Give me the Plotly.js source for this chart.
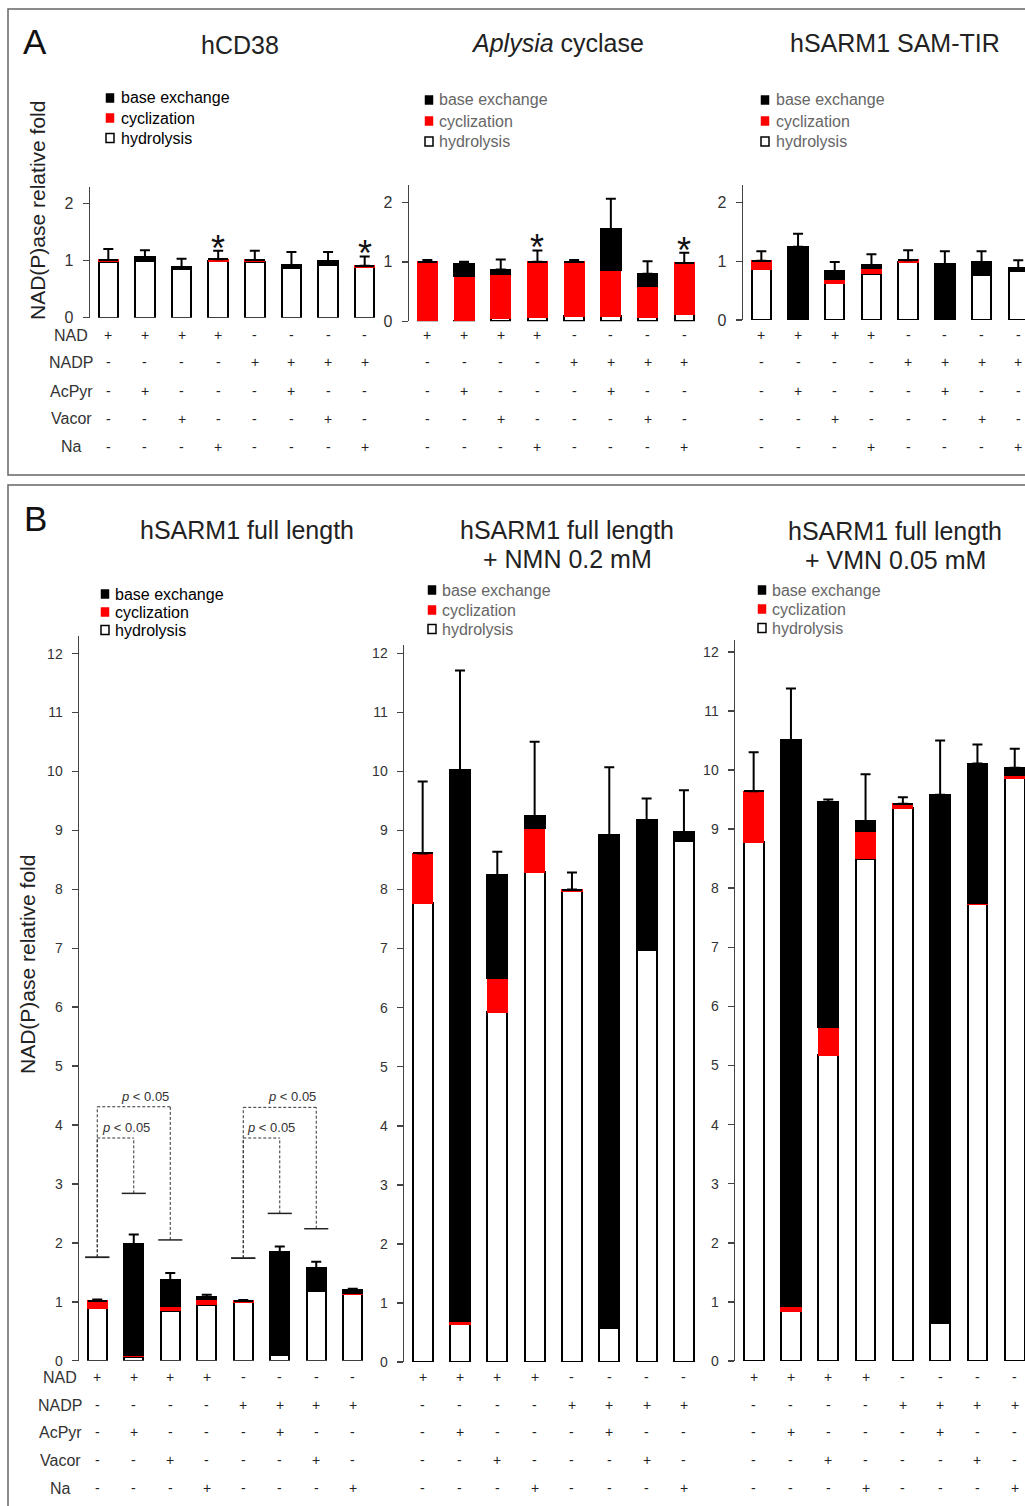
<!DOCTYPE html>
<html><head><meta charset="utf-8">
<script src="https://cdn.plot.ly/plotly-3.0.1.min.js"></script>
<style>html,body{margin:0;padding:0;background:#fff}#chart{width:1025px;height:1506px}</style>
</head><body><div id="chart"></div>
<script>
// ---------------- DATA ----------------
const categories = ['NAD', 'NAD+AcPyr', 'NAD+Vacor', 'NAD+Na', 'NADP', 'NADP+AcPyr', 'NADP+Vacor', 'NADP+Na'];
const rowNames = ['NAD', 'NADP', 'AcPyr', 'Vacor', 'Na'];
const rowNAD   = ['+', '+', '+', '+', '-', '-', '-', '-'];
const rowNADP  = ['-', '-', '-', '-', '+', '+', '+', '+'];
const rowAcPyr = ['-', '+', '-', '-', '-', '+', '-', '-'];
const rowVacor = ['-', '-', '+', '-', '-', '-', '+', '-'];
const rowNa    = ['-', '-', '-', '+', '-', '-', '-', '+'];
const seriesNames = ['base exchange', 'cyclization', 'hydrolysis'];

// hCD38
const hcd38Hydrolysis = [0.98, 0.99, 0.86, 0.99, 0.98, 0.87, 0.93, 0.88];
const hcd38Cyclization = [0.03, 0, 0, 0.03, 0.03, 0, 0, 0.03];
const hcd38Base = [0, 0.07, 0.02, 0, 0, 0.05, 0.06, 0];
const hcd38Err = [0.19, 0.12, 0.15, 0.15, 0.16, 0.23, 0.16, 0.16];
// Aplysia cyclase
const aplHydrolysis = [0.02, 0.01, 0.05, 0.07, 0.09, 0.09, 0.07, 0.12];
const aplCyclization = [0.98, 0.75, 0.75, 0.93, 0.91, 0.77, 0.53, 0.86];
const aplBase = [0, 0.21, 0.07, 0, 0, 0.69, 0.20, 0];
const aplErr = [0.03, 0.03, 0.17, 0.19, 0.03, 0.51, 0.21, 0.17];
// hSARM1 SAM-TIR
const samHydrolysis = [0.87, 0, 0.63, 0.79, 0.98, 0, 0.76, 0.83];
const samCyclization = [0.14, 0, 0.07, 0.09, 0.04, 0, 0, 0];
const samBase = [0, 1.25, 0.13, 0.05, 0, 0.95, 0.22, 0.05];
const samErr = [0.16, 0.22, 0.16, 0.19, 0.17, 0.22, 0.19, 0.14];
// hSARM1 full length
const flHydrolysis = [0.89, 0.07, 0.85, 0.95, 1.00, 0.10, 1.19, 1.13];
const flCyclization = [0.13, 0.02, 0.08, 0.09, 0.02, 0, 0.01, 0.02];
const flBase = [0, 1.89, 0.44, 0.04, 0, 1.74, 0.37, 0.05];
const flErr = [0.02, 0.16, 0.12, 0.04, 0.01, 0.10, 0.11, 0.02];
// hSARM1 full length + NMN 0.2 mM
const nmnHydrolysis = [7.77, 0.64, 5.93, 8.29, 7.97, 0.58, 6.97, 8.82];
const nmnCyclization = [0.84, 0.06, 0.57, 0.76, 0.03, 0, 0, 0];
const nmnBase = [0, 9.32, 1.74, 0.19, 0, 8.34, 2.20, 0.15];
const nmnErr = [1.22, 1.69, 0.40, 1.26, 0.29, 1.15, 0.37, 0.71];
// hSARM1 full length + VMN 0.05 mM
const vmnHydrolysis = [8.78, 0.85, 5.17, 8.50, 9.35, 0.65, 7.73, 9.86];
const vmnCyclization = [0.86, 0.08, 0.48, 0.47, 0.08, 0, 0.02, 0.05];
const vmnBase = [0, 9.58, 3.81, 0.16, 0, 8.93, 2.36, 0.13];
const vmnErr = [0.66, 0.87, 0.04, 0.80, 0.11, 0.92, 0.32, 0.32];

// significance brackets (hSARM1 full length): [left bar, right bar, left cap, right cap, top, label position]
const bracketsFL = [[0, 2, 1.755, 2.05, 4.31, 1.31], [0, 1, 1.755, 2.84, 3.78, 0.79], [4, 6, 1.74, 2.24, 4.30, 5.34], [4, 5, 1.74, 2.50, 3.78, 4.77]];
const starBars = [3, 7];

// ---------------- LAYOUT HELPERS ----------------
const W = 1025, H = 1506;
const PX = x => x / W, PY = y => 1 - y / H;
const FONT = 'Liberation Sans, Arial, sans-serif';
const rows = [rowNAD, rowNADP, rowAcPyr, rowVacor, rowNa];

const panels = [
  {hyd: hcd38Hydrolysis, cyc: hcd38Cyclization, base: hcd38Base, err: hcd38Err, x: [90, 383], xr: [-0.5, 7.5], y: [186.7, 317.7], yr: [0, 2.29], tv: [0,1,2], tf: 16,
   title: 'hCD38', ty: [45], tx: 240, leg: [106, 119, [98, 118, 138]], legc: '#000', rowsY: [335, 362, 391, 419, 447], rowLabelX: 71, stars: true},
  {hyd: aplHydrolysis, cyc: aplCyclization, base: aplBase, err: aplErr, x: [409, 702.6], xr: [-0.5, 7.5], y: [185, 321.3], yr: [0, 2.29], tv: [0,1,2], tf: 16,
   title: '<i>Aplysia</i> cyclase', ty: [43], tx: 557, leg: [425, 437, [100, 121, 141.5]], legc: '#666', rowsY: [335, 362, 391, 419, 447], stars: true},
  {hyd: samHydrolysis, cyc: samCyclization, base: samBase, err: samErr, x: [743, 1025], xr: [-0.5, 7.184], y: [185, 320], yr: [0, 2.3], tv: [0,1,2], tf: 16,
   title: 'hSARM1 SAM-TIR', ty: [43], tx: 895, leg: [761, 774, [100, 121, 141.5]], legc: '#666', rowsY: [335, 362, 391, 419, 447]},
  {hyd: flHydrolysis, cyc: flCyclization, base: flBase, err: flErr, x: [79, 371], xr: [-0.5, 7.5], y: [636, 1360.7], yr: [0, 12.3], tv: [0,1,2,3,4,5,6,7,8,9,10,11,12], tf: 14,
   title: 'hSARM1 full length', ty: [530], tx: 247, leg: [101, 113, [594, 612, 630]], legc: '#000', rowsY: [1377, 1405, 1432, 1460, 1488], rowLabelX: 60, brackets: bracketsFL},
  {hyd: nmnHydrolysis, cyc: nmnCyclization, base: nmnBase, err: nmnErr, x: [404, 702.6], xr: [-0.5, 7.5], y: [645, 1362], yr: [0, 12.14], tv: [0,1,2,3,4,5,6,7,8,9,10,11,12], tf: 14,
   title: 'hSARM1 full length<br>+ NMN 0.2 mM', ty: [530, 559], tx: 567, leg: [428, 440, [590, 610, 629]], legc: '#666', rowsY: [1377, 1405, 1432, 1460, 1488]},
  {hyd: vmnHydrolysis, cyc: vmnCyclization, base: vmnBase, err: vmnErr, x: [735, 1025], xr: [-0.5, 7.275], y: [640, 1361], yr: [0, 12.2], tv: [0,1,2,3,4,5,6,7,8,9,10,11,12], tf: 14,
   title: 'hSARM1 full length<br>+ VMN 0.05 mM', ty: [531, 560], tx: 895, leg: [758, 770, [590, 609, 628]], legc: '#666', rowsY: [1377, 1405, 1432, 1460, 1488]}
];

const traces = [];
const layout = {
  width: W, height: H, margin: {l: 0, r: 0, t: 0, b: 0}, paper_bgcolor: '#fff', plot_bgcolor: 'rgba(0,0,0,0)',
  barmode: 'stack', bargap: 0.47, showlegend: false, font: {family: FONT, color: '#222'},
  annotations: [], shapes: []
};

// panel frames and letters
layout.shapes.push({type: 'rect', xref: 'paper', yref: 'paper', x0: PX(8), x1: PX(1045), y0: PY(9), y1: PY(475), line: {color: '#666', width: 1.5}});
layout.shapes.push({type: 'rect', xref: 'paper', yref: 'paper', x0: PX(8), x1: PX(1045), y0: PY(485), y1: PY(1530), line: {color: '#666', width: 1.5}});
layout.annotations.push({xref: 'paper', yref: 'paper', x: PX(35), y: PY(42), text: 'A', showarrow: false, font: {size: 35, color: '#111'}, xanchor: 'center', yanchor: 'middle'});
layout.annotations.push({xref: 'paper', yref: 'paper', x: PX(35), y: PY(518), text: 'B', showarrow: false, font: {size: 35, color: '#111'}, xanchor: 'center', yanchor: 'middle'});
// y-axis titles
layout.annotations.push({xref: 'paper', yref: 'paper', x: PX(38), y: PY(211), text: 'NAD(P)ase relative fold', textangle: -90, showarrow: false, font: {size: 21, color: '#222'}, xanchor: 'center', yanchor: 'middle'});
layout.annotations.push({xref: 'paper', yref: 'paper', x: PX(27), y: PY(965), text: 'NAD(P)ase relative fold', textangle: -90, showarrow: false, font: {size: 21, color: '#222'}, xanchor: 'center', yanchor: 'middle'});

panels.forEach((p, i) => {
  const n = i + 1;
  const xa = n === 1 ? 'x' : 'x' + n, ya = n === 1 ? 'y' : 'y' + n;
  const xkey = n === 1 ? 'xaxis' : 'xaxis' + n, ykey = n === 1 ? 'yaxis' : 'yaxis' + n;
  layout[xkey] = {domain: [PX(p.x[0]), PX(p.x[1])], range: p.xr, type: 'category', anchor: ya,
    showline: false, showticklabels: false, ticks: '', showgrid: false, zeroline: false, fixedrange: true};
  layout[ykey] = {domain: [PY(p.y[1]), PY(p.y[0])], range: p.yr, anchor: xa, showline: true, linecolor: '#444', linewidth: 1.5,
    ticks: 'outside', ticklen: 6, tickwidth: 1.5, tickcolor: '#444', tickvals: p.tv, ticklabelstandoff: 6,
    tickfont: {size: p.tf, color: '#333', family: FONT}, showgrid: false, zeroline: false, fixedrange: true};

  traces.push({type: 'bar', name: seriesNames[2], x: categories, y: p.hyd, xaxis: xa, yaxis: ya,
    marker: {color: '#ffffff', line: {color: '#000', width: 2}}, hoverinfo: 'skip'});
  traces.push({type: 'bar', name: seriesNames[1], x: categories, y: p.cyc, xaxis: xa, yaxis: ya,
    marker: {color: '#ff0000', line: {color: '#ff0000', width: 1.5}}, hoverinfo: 'skip'});
  traces.push({type: 'bar', name: seriesNames[0], x: categories, y: p.base, xaxis: xa, yaxis: ya,
    marker: {color: '#000000', line: {color: '#000', width: 2}}, hoverinfo: 'skip'});
  const totals = p.hyd.map((v, k) => v + p.cyc[k] + p.base[k]);
  traces.push({type: 'scatter', mode: 'markers', x: categories, y: totals, xaxis: xa, yaxis: ya,
    marker: {size: 1, opacity: 0}, hoverinfo: 'skip', showlegend: false,
    error_y: {type: 'data', array: p.err, arrayminus: p.err.map(() => 0), symmetric: false, color: '#000', thickness: 2, width: 5}});

  // stars
  if (p.stars) starBars.forEach(k => layout.annotations.push({xref: xa, yref: ya, x: k, y: totals[k] + p.err[k], text: '*', showarrow: false,
    font: {size: 36, color: '#111'}, xanchor: 'center', yanchor: 'bottom', yshift: -20}));

  // title
  const titleLines = p.title.split('<br>');
  titleLines.forEach((t, j) => layout.annotations.push({xref: 'paper', yref: 'paper', x: PX(p.tx), y: PY(p.ty[j]), text: t, showarrow: false,
    font: {size: 25, color: '#222'}, xanchor: 'center', yanchor: 'middle'}));

  // manual legend
  const lg = p.leg;
  const fills = ['#000', '#ff0000', '#fff'];
  seriesNames.forEach((s, j) => {
    const cy = lg[2][j];
    layout.shapes.push({type: 'rect', xref: 'paper', yref: 'paper', x0: PX(lg[0]), x1: PX(lg[0] + 8), y0: PY(cy + 4.5), y1: PY(cy - 4.5),
      fillcolor: fills[j], line: {color: j === 1 ? '#ff0000' : '#000', width: j === 2 ? 1.5 : 0.5}});
    layout.annotations.push({xref: 'paper', yref: 'paper', x: PX(lg[1]), y: PY(cy), text: s, showarrow: false,
      font: {size: 16, color: p.legc}, xanchor: 'left', yanchor: 'middle'});
  });

  // condition table
  rows.forEach((r, j) => {
    if (p.rowLabelX) layout.annotations.push({xref: 'paper', yref: 'paper', x: PX(p.rowLabelX), y: PY(p.rowsY[j]), text: rowNames[j], showarrow: false,
      font: {size: 16, color: '#333'}, xanchor: 'center', yanchor: 'middle'});
    r.forEach((sym, k) => layout.annotations.push({xref: xa, yref: 'paper', x: k, y: PY(p.rowsY[j]), text: sym, showarrow: false,
      font: {size: 14, color: '#222'}, xanchor: 'center', yanchor: 'middle'}));
  });

  // brackets
  if (p.brackets) {
    p.brackets.forEach(b => {
      const [l, r, lc, rc, top, tx] = b;
      const dash = {color: '#333', width: 1, dash: '3px,2px'};
      layout.shapes.push({type: 'line', xref: xa, yref: ya, x0: l, x1: l, y0: lc, y1: top, line: dash});
      layout.shapes.push({type: 'line', xref: xa, yref: ya, x0: l, x1: r, y0: top, y1: top, line: dash});
      layout.shapes.push({type: 'line', xref: xa, yref: ya, x0: r, x1: r, y0: rc, y1: top, line: dash});
      layout.shapes.push({type: 'line', xref: xa, yref: ya, x0: l - 0.33, x1: l + 0.33, y0: lc, y1: lc, line: {color: '#222', width: 1.5}});
      layout.shapes.push({type: 'line', xref: xa, yref: ya, x0: r - 0.33, x1: r + 0.33, y0: rc, y1: rc, line: {color: '#222', width: 1.5}});
      layout.annotations.push({xref: xa, yref: ya, x: tx, y: top, text: '<i>p</i> &lt; 0.05', showarrow: false,
        font: {size: 13, color: '#333'}, xanchor: 'center', yanchor: 'bottom', yshift: 1});
    });
  }
});

Plotly.newPlot('chart', traces, layout, {staticPlot: true, displayModeBar: false});
</script></body></html>
